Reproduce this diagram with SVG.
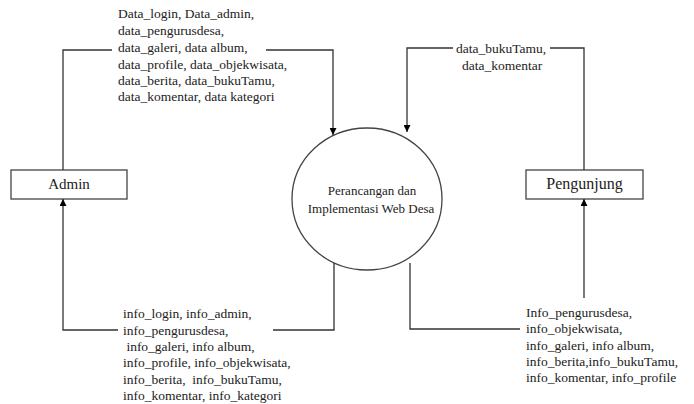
<svg xmlns="http://www.w3.org/2000/svg" width="694" height="404" viewBox="0 0 694 404">
<style>
.ln{fill:none;stroke:#333;stroke-width:1.3}
.bx{fill:#fff;stroke:#444;stroke-width:1.3}
.t{font-family:"Liberation Serif","Times New Roman",serif;font-size:13.5px;fill:#222}
.n{font-family:"Liberation Serif","Times New Roman",serif;font-size:15px;fill:#222;text-anchor:middle}
.e{font-family:"Liberation Serif","Times New Roman",serif;font-size:13px;fill:#222;text-anchor:middle}
</style>
<defs>
<marker id="ah" viewBox="0 0 10 10" refX="10" refY="5" markerWidth="12" markerHeight="7" markerUnits="userSpaceOnUse" orient="auto">
<path d="M0,0 L10,5 L0,10 Z" fill="#000"/>
</marker>
</defs>
<g id="sistem">
<ellipse class="bx" cx="367" cy="199" rx="75" ry="71"/>
<text class="e" x="372" y="195">Perancangan dan</text>
<text class="e" x="371" y="213">Implementasi Web Desa</text>
</g>
<g id="admin">
<rect class="bx" x="11" y="170" width="116" height="29"/>
<text class="n" x="69" y="189">Admin</text>
</g>
<g id="pengunjung">
<rect class="bx" x="526" y="170" width="117" height="29"/>
<text class="n" x="584.5" y="189" style="font-size:16px">Pengunjung</text>
</g>
<g id="connectors">
<polyline class="ln" points="63,170 63,50 112,50"/>
<polyline class="ln" points="266,50 333,50 333,135" marker-end="url(#ah)"/>
<polyline class="ln" points="453,48 407,48 407,132" marker-end="url(#ah)"/>
<polyline class="ln" points="550,48 584,48 584,170"/>
<polyline class="ln" points="118,330 63,330 63,199" marker-end="url(#ah)"/>
<polyline class="ln" points="273,330 334,330 334,263"/>
<polyline class="ln" points="410,263 410,329 520,329"/>
<polyline class="ln" points="584,298 584,199" marker-end="url(#ah)"/>
<text class="t" x="118" y="18">Data_login, Data_admin,</text>
<text class="t" x="118" y="35">data_pengurusdesa,</text>
<text class="t" x="118" y="52">data_galeri, data album,</text>
<text class="t" x="118" y="69">data_profile, data_objekwisata,</text>
<text class="t" x="118" y="85">data_berita, data_bukuTamu,</text>
<text class="t" x="118" y="101">data_komentar, data kategori</text>
<text class="t" x="456" y="53">data_bukuTamu,</text>
<text class="t" x="462" y="70">data_komentar</text>
<text class="t" x="123" y="318" xml:space="preserve">info_login, info_admin,</text>
<text class="t" x="123" y="335" xml:space="preserve">info_pengurusdesa,</text>
<text class="t" x="123" y="351" xml:space="preserve"> info_galeri, info album,</text>
<text class="t" x="123" y="367" xml:space="preserve">info_profile, info_objekwisata,</text>
<text class="t" x="123" y="384" xml:space="preserve">info_berita,  info_bukuTamu,</text>
<text class="t" x="123" y="400" xml:space="preserve">info_komentar, info_kategori</text>
<text class="t" x="526" y="317">Info_pengurusdesa,</text>
<text class="t" x="526" y="333">info_objekwisata,</text>
<text class="t" x="526" y="350">info_galeri, info album,</text>
<text class="t" x="526" y="366">info_berita,info_bukuTamu,</text>
<text class="t" x="526" y="382">info_komentar, info_profile</text>
</g>
</svg>
